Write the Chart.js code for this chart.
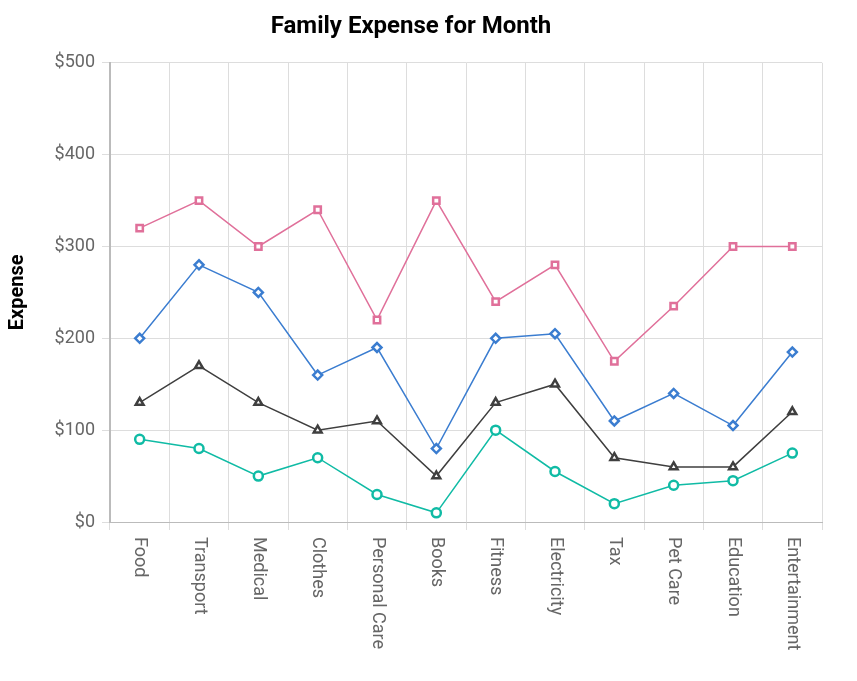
<!DOCTYPE html>
<html>
<head>
<meta charset="utf-8">
<script src="https://cdn.jsdelivr.net/npm/chart.js@4/dist/chart.umd.min.js"></script>
<style>
html,body{margin:0;padding:0;background:#fff;}
#wrap{width:857px;height:681px;}
</style>
</head>
<body>
<div id="wrap"><canvas id="c" width="857" height="681"></canvas></div>
<script>
const categories = ["Food","Transport","Medical","Clothes","Personal Care","Books","Fitness","Electricity","Tax","Pet Care","Education","Entertainment"];
const seriesPink  = [320,350,300,340,220,350,240,280,175,235,300,300];
const seriesBlue  = [200,280,250,160,190,80,200,205,110,140,105,185];
const seriesDark  = [130,170,130,100,110,50,130,150,70,60,60,120];
const seriesTeal  = [90,80,50,70,30,10,100,55,20,40,45,75];
const yTicks = [0,100,200,300,400,500];

const FONT = "Roboto, 'Noto Sans', sans-serif";
const LABEL_SIZE = 18;

function ds(label, data, color, style){
  return {label, data, borderColor: color, backgroundColor: '#fff',
    borderWidth: 1.5, pointStyle: style, pointRadius: 4.5,
    pointBorderWidth: 2.5, pointBackgroundColor:'#fff', pointBorderColor: color,
    tension: 0, fill: false};
}

const xLabelPlugin = {
  id: 'xLabels',
  afterDraw(chart){
    const sc = chart.scales.x;
    const ctx = chart.ctx;
    ctx.save();
    ctx.font = LABEL_SIZE + "px " + FONT;
    ctx.fillStyle = '#666';
    ctx.textAlign = 'left';
    ctx.textBaseline = 'middle';
    categories.forEach((c,i)=>{
      const x = sc.getPixelForValue(i);
      ctx.save();
      ctx.translate(x, sc.top + 15);
      ctx.rotate(Math.PI/2);
      ctx.fillText(c, 0, 0);
      ctx.restore();
    });
    ctx.restore();
  }
};

new Chart(document.getElementById('c'), {
  type: 'line',
  data: {
    labels: categories,
    datasets: [
      ds('Pink', seriesPink, '#e0709a', 'rect'),
      ds('Blue', seriesBlue, '#3b7dd0', 'rectRot'),
      ds('Dark', seriesDark, '#3f3f3f', 'triangle'),
      ds('Teal', seriesTeal, '#10bba5', 'circle')
    ]
  },
  plugins: [xLabelPlugin],
  options: {
    responsive: false,
    animation: false,
    layout: {padding: {left: 0, right: 35, top: 8, bottom: 0}},
    plugins: {
      legend: {display: false},
      tooltip: {enabled: false},
      title: {display: true, text: 'Family Expense for Month', color: '#000',
        font: {family: FONT, size: 24, weight: 'bold'}, padding: {top: 5, bottom: 21}}
    },
    scales: {
      x: {
        offset: true,
        grid: {offset: true, color: '#dddddd', lineWidth: 1, tickLength: 8, drawTicks: true},
        border: {color: '#bbbbbb', width: 1},
        ticks: {color: 'rgba(0,0,0,0)', font: {family: FONT, size: LABEL_SIZE}, minRotation: 90, maxRotation: 90, autoSkip: false, padding: 6},
        afterFit(scale){ scale.height = 681 - 522; }
      },
      y: {
        min: 0, max: 500,
        afterBuildTicks(scale){ scale.ticks = yTicks.map(v=>({value:v})); },
        grid: {color: '#dddddd', lineWidth: 1, tickLength: 8},
        border: {color: '#bbbbbb', width: 2},
        ticks: {color: '#666', font: {family: FONT, size: LABEL_SIZE}, padding: 7, callback: v => '$' + v},
        title: {display: true, text: 'Expense', color: '#000', font: {family: FONT, size: 20, weight: 'bold'}, padding: {top: 6, bottom: 12}},
        afterFit(scale){ scale.width = 110; }
      }
    }
  }
});
</script>
</body>
</html>
